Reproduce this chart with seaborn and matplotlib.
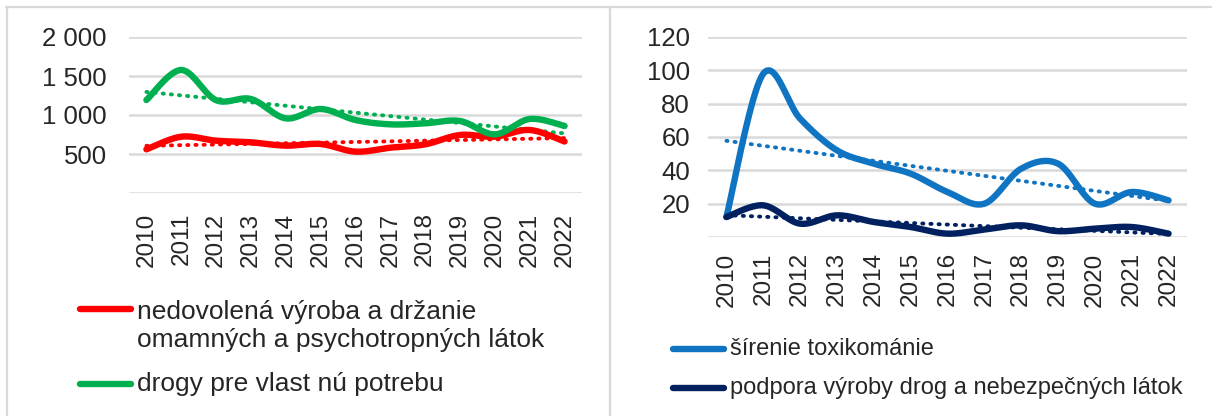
import numpy as np
import pandas as pd
import matplotlib
matplotlib.use("Agg")
import matplotlib.pyplot as plt
import seaborn as sns
from matplotlib.lines import Line2D

years = [2010, 2011, 2012, 2013, 2014, 2015, 2016, 2017, 2018, 2019, 2020, 2021, 2022]
year_labels = [str(y) for y in years]

vyroba_drzanie = [560, 722, 671, 650, 607, 628, 530, 581, 624, 744, 722, 808, 660]
vlastna_potreba = [1192, 1577, 1190, 1205, 957, 1077, 936, 880, 893, 923, 752, 949, 859]
sirenie = [12, 98, 71, 52, 44, 38, 27, 20, 41, 44, 20, 27, 22]
podpora = [12, 19, 8, 13, 9, 6, 2, 4.5, 7, 3.5, 5, 6, 2]

left_ticks = [500, 1000, 1500, 2000]
left_tick_labels = ["500", "1 000", "1 500", "2 000"]
right_ticks = [20, 40, 60, 80, 100, 120]
right_tick_labels = ["20", "40", "60", "80", "100", "120"]

lab_red = "nedovolená výroba a držanie\nomamných a psychotropných látok"
lab_green = "drogy pre vlast nú potrebu"
lab_blue = "šírenie toxikománie"
lab_navy = "podpora výroby drog a nebezpečných látok"

RED = "#FF0000"
GREEN = "#00B050"
BLUE = "#0F75C2"
NAVY = "#002060"
GRID = "#D9D9D9"

sns.set_theme(style="white")
plt.rcParams["font.family"] = ["Liberation Sans", "DejaVu Sans"]
FS_Y = 18.5
FS_X = 17.5
FS_LEG_L = 19
FS_LEG_R = 17
LW = 4.6

W, H = 1212, 416
fig = plt.figure(figsize=(W / 100, H / 100), dpi=100)


def px_axes(x0, y0, x1, y1):
    return fig.add_axes([x0 / W, 1 - y1 / H, (x1 - x0) / W, (y1 - y0) / H])


def smooth(y, n=20):
    # Catmull-Rom style smoothing (like spreadsheet "smoothed line")
    y = np.asarray(y, float)
    x = np.arange(len(y), dtype=float)
    P = np.vstack([x, y]).T
    P = np.vstack([P[0], P, P[-1]])
    out = []
    for i in range(1, len(P) - 2):
        p0, p1, p2, p3 = P[i - 1], P[i], P[i + 1], P[i + 2]
        t = np.linspace(0, 1, n, endpoint=False)[:, None]
        c1 = p1 + (p2 - p0) / 6
        c2 = p2 - (p3 - p1) / 6
        pts = ((1 - t) ** 3) * p1 + 3 * ((1 - t) ** 2) * t * c1 + 3 * (1 - t) * t ** 2 * c2 + t ** 3 * p2
        out.append(pts)
    out.append(P[-2][None, :])
    pts = np.vstack(out)
    return pts[:, 0], pts[:, 1]


def draw_series(ax, vals, color):
    xs, ys = smooth(vals)
    sns.lineplot(x=xs, y=ys, ax=ax, color=color, lw=LW, sort=False,
                 estimator=None, solid_capstyle="round", zorder=3)
    idx = np.arange(len(vals))
    k, b = np.polyfit(idx, vals, 1)
    sns.lineplot(x=idx, y=k * idx + b, ax=ax, color=color, lw=2.8,
                 linestyle=(0, (0.3, 1.8)), dash_capstyle="round", zorder=2)


def style_axes(ax, ymax, ticks, labels, xpad, ypad):
    ax.set_xlim(-0.5, len(years) - 0.5)
    ax.set_ylim(0, ymax)
    for t in [0] + ticks:
        ax.axhline(t, color=GRID, lw=1.8, zorder=1)
    ax.set_yticks(ticks)
    ax.set_yticklabels(labels, fontsize=FS_Y)
    ax.set_xticks(range(len(years)))
    ax.set_xticklabels(year_labels, rotation=90, fontsize=FS_X)
    ax.tick_params(axis="y", length=0, pad=ypad)
    ax.tick_params(axis="x", length=0, pad=xpad)
    for s in ax.spines.values():
        s.set_visible(False)
    ax.grid(False)
    ax.set_xlabel("")
    ax.set_ylabel("")


axL = px_axes(129, 37, 582, 193)
draw_series(axL, vyroba_drzanie, RED)
draw_series(axL, vlastna_potreba, GREEN)
style_axes(axL, 2000, left_ticks, left_tick_labels, 14, 16)

axR = px_axes(708, 37, 1187, 237)
draw_series(axR, sirenie, BLUE)
draw_series(axR, podpora, NAVY)
style_axes(axR, 120, right_ticks, right_tick_labels, 11, 13)


def fig_line(x0, x1, y, color):
    fig.add_artist(Line2D([x0 / W, x1 / W], [1 - y / H, 1 - y / H], color=color,
                          lw=LW, solid_capstyle="round", transform=fig.transFigure))


def fig_text(x, y, s, fs, **kw):
    fig.text(x / W, 1 - y / H, s, fontsize=fs, va="center", ha="left", **kw)


# legends
fig_line(80, 131, 309, RED)
fig_text(137, 326, lab_red, FS_LEG_L, linespacing=1.22)
fig_line(80, 131, 384, GREEN)
fig_text(137, 384, lab_green, FS_LEG_L)
fig_line(673, 724, 349, BLUE)
fig_text(730, 349, lab_blue, FS_LEG_R)
fig_line(673, 724, 388, NAVY)
fig_text(730, 388, lab_navy, FS_LEG_R)

# panel borders
def fig_vline(x, y0, y1):
    fig.add_artist(Line2D([x / W, x / W], [1 - y0 / H, 1 - y1 / H], color=GRID, lw=1.6,
                          transform=fig.transFigure))

fig.add_artist(Line2D([6 / W, 1], [1 - 7 / H, 1 - 7 / H], color=GRID, lw=1.6,
                      transform=fig.transFigure))
fig_vline(7, 7, 416)
fig_vline(610, 7, 416)

fig.savefig("out.png", dpi=100)
